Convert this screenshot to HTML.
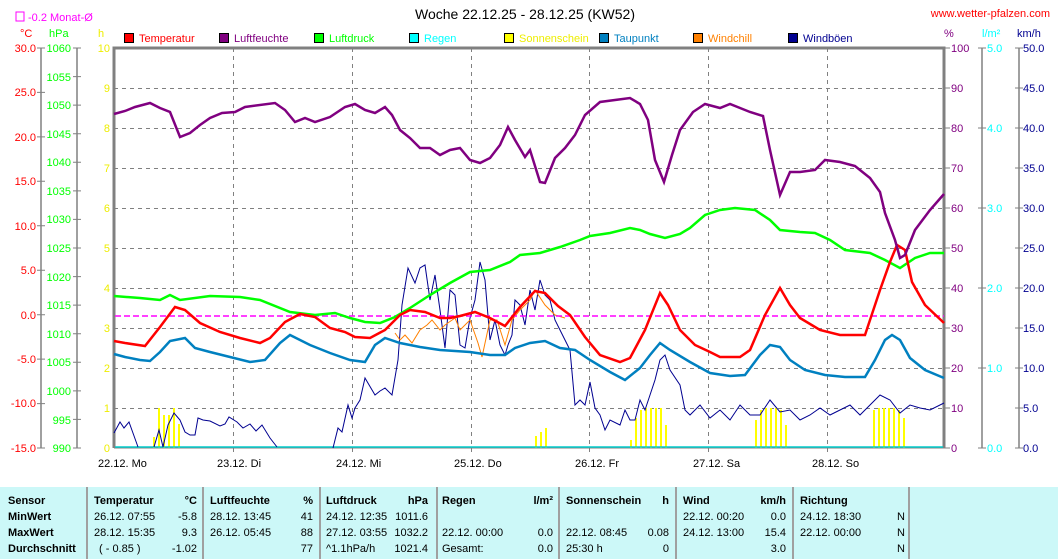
<!DOCTYPE html>
<html><head><meta charset="utf-8"><style>
html,body{margin:0;padding:0;background:#fff;}
svg{display:block;font-family:"Liberation Sans",sans-serif;}
</style></head><body>
<svg width="1058" height="559" viewBox="0 0 1058 559" xmlns="http://www.w3.org/2000/svg">
<rect width="1058" height="559" fill="#fff"/>
<text x="525" y="19" font-size="14" text-anchor="middle" fill="#000">Woche 22.12.25 - 28.12.25 (KW52)</text>
<text x="1050" y="17" font-size="11" text-anchor="end" fill="#f00">www.wetter-pfalzen.com</text>
<rect x="16" y="12" width="8" height="9" fill="none" stroke="#f0f" stroke-width="1"/>
<text x="28" y="21" font-size="11" fill="#f0f">-0.2 Monat-Ø</text>
<text x="20" y="37" font-size="11" fill="#f00">°C</text>
<text x="49" y="37" font-size="11" fill="#0f0">hPa</text>
<text x="98" y="37" font-size="11" fill="#ee0">h</text>
<text x="944" y="37" font-size="11" fill="#800080">%</text>
<text x="982" y="37" font-size="11" fill="#0ff">l/m²</text>
<text x="1017" y="37" font-size="11" fill="#000090">km/h</text>
<!-- legend -->
<g font-size="11">
<rect x="124.5" y="33.5" width="9" height="9" fill="#f00" stroke="#000"/><text x="139" y="42" fill="#f00">Temperatur</text>
<rect x="219.5" y="33.5" width="9" height="9" fill="#800080" stroke="#000"/><text x="234" y="42" fill="#800080">Luftfeuchte</text>
<rect x="314.5" y="33.5" width="9" height="9" fill="#0f0" stroke="#000"/><text x="329" y="42" fill="#0f0">Luftdruck</text>
<rect x="409.5" y="33.5" width="9" height="9" fill="#0ff" stroke="#000"/><text x="424" y="42" fill="#0ff">Regen</text>
<rect x="504.5" y="33.5" width="9" height="9" fill="#ff0" stroke="#000"/><text x="519" y="42" fill="#ee0">Sonnenschein</text>
<rect x="599.5" y="33.5" width="9" height="9" fill="#0080c0" stroke="#000"/><text x="614" y="42" fill="#0080c0">Taupunkt</text>
<rect x="693.5" y="33.5" width="9" height="9" fill="#ff8000" stroke="#000"/><text x="708" y="42" fill="#ff8000">Windchill</text>
<rect x="788.5" y="33.5" width="9" height="9" fill="#000090" stroke="#000"/><text x="803" y="42" fill="#000090">Windböen</text>
</g>
<!-- grid -->
<g stroke="#808080" stroke-dasharray="4,4" stroke-width="1">
<line x1="114" y1="88.5" x2="944" y2="88.5"/><line x1="114" y1="128.5" x2="944" y2="128.5"/><line x1="114" y1="168.5" x2="944" y2="168.5"/><line x1="114" y1="208.5" x2="944" y2="208.5"/><line x1="114" y1="248.5" x2="944" y2="248.5"/><line x1="114" y1="288.5" x2="944" y2="288.5"/><line x1="114" y1="328.5" x2="944" y2="328.5"/><line x1="114" y1="368.5" x2="944" y2="368.5"/><line x1="114" y1="408.5" x2="944" y2="408.5"/>
<line x1="233.5" y1="48" x2="233.5" y2="453"/><line x1="352.5" y1="48" x2="352.5" y2="453"/><line x1="471.5" y1="48" x2="471.5" y2="453"/><line x1="589.5" y1="48" x2="589.5" y2="453"/><line x1="708.5" y1="48" x2="708.5" y2="453"/><line x1="827.5" y1="48" x2="827.5" y2="453"/>
</g>
<!-- axes lines -->
<g stroke="#808080" stroke-width="1.5" fill="none">
<line x1="41" y1="48" x2="41" y2="448"/><line x1="77" y1="48" x2="77" y2="448"/>
<line x1="982" y1="48" x2="982" y2="448"/><line x1="1019" y1="48" x2="1019" y2="448"/>
</g>
<g stroke="#808080" stroke-width="3" fill="none"><polyline points="114,448 114,48 944,48 944,448"/></g>
<line x1="114" y1="448" x2="944" y2="448" stroke="#808080" stroke-width="1"/>
<!-- left tick labels -->
<g font-size="11" text-anchor="end" fill="#f00">
<text x="36" y="52">30.0</text><text x="36" y="96">25.0</text><text x="36" y="141">20.0</text><text x="36" y="185">15.0</text><text x="36" y="230">10.0</text><text x="36" y="274">5.0</text><text x="36" y="319">0.0</text><text x="36" y="363">-5.0</text><text x="36" y="407">-10.0</text><text x="36" y="452">-15.0</text>
</g>
<g stroke="#808080"><path d="M37 48h8M37 92.4h8M37 136.9h8M37 181.3h8M37 225.8h8M37 270.2h8M37 314.7h8M37 359.1h8M37 403.6h8M37 448h8"/>
<path d="M73 48h8M73 76.6h8M73 105.1h8M73 133.7h8M73 162.3h8M73 190.9h8M73 219.4h8M73 248h8M73 276.6h8M73 305.1h8M73 333.7h8M73 362.3h8M73 390.9h8M73 419.4h8M73 448h8"/>
<path d="M944 48h6M944 88h6M944 128h6M944 168h6M944 208h6M944 248h6M944 288h6M944 328h6M944 368h6M944 408h6M944 448h6"/>
<path d="M978 48h8M978 128h8M978 208h8M978 288h8M978 368h8M978 448h8"/>
<path d="M1015 48h8M1015 88h8M1015 128h8M1015 168h8M1015 208h8M1015 248h8M1015 288h8M1015 328h8M1015 368h8M1015 408h8M1015 448h8"/></g>
<g font-size="11" text-anchor="end" fill="#0f0">
<text x="71" y="52">1060</text><text x="71" y="81">1055</text><text x="71" y="109">1050</text><text x="71" y="138">1045</text><text x="71" y="166">1040</text><text x="71" y="195">1035</text><text x="71" y="223">1030</text><text x="71" y="252">1025</text><text x="71" y="281">1020</text><text x="71" y="309">1015</text><text x="71" y="338">1010</text><text x="71" y="366">1005</text><text x="71" y="395">1000</text><text x="71" y="424">995</text><text x="71" y="452">990</text>
</g>
<g font-size="11" text-anchor="end" fill="#ee0">
<text x="110" y="52">10</text><text x="110" y="92">9</text><text x="110" y="132">8</text><text x="110" y="172">7</text><text x="110" y="212">6</text><text x="110" y="252">5</text><text x="110" y="292">4</text><text x="110" y="332">3</text><text x="110" y="372">2</text><text x="110" y="412">1</text><text x="110" y="452">0</text>
</g>
<g font-size="11" fill="#800080">
<text x="951" y="52">100</text><text x="951" y="92">90</text><text x="951" y="132">80</text><text x="951" y="172">70</text><text x="951" y="212">60</text><text x="951" y="252">50</text><text x="951" y="292">40</text><text x="951" y="332">30</text><text x="951" y="372">20</text><text x="951" y="412">10</text><text x="951" y="452">0</text>
</g>
<g font-size="11" fill="#0ff">
<text x="987" y="52">5.0</text><text x="987" y="132">4.0</text><text x="987" y="212">3.0</text><text x="987" y="292">2.0</text><text x="987" y="372">1.0</text><text x="987" y="452">0.0</text>
</g>
<g font-size="11" fill="#000090">
<text x="1023" y="52">50.0</text><text x="1023" y="92">45.0</text><text x="1023" y="132">40.0</text><text x="1023" y="172">35.0</text><text x="1023" y="212">30.0</text><text x="1023" y="252">25.0</text><text x="1023" y="292">20.0</text><text x="1023" y="332">15.0</text><text x="1023" y="372">10.0</text><text x="1023" y="412">5.0</text><text x="1023" y="452">0.0</text>
</g>
<!-- x labels -->
<g font-size="11" fill="#000">
<text x="98" y="467">22.12.  Mo</text><text x="217" y="467">23.12.  Di</text><text x="336" y="467">24.12.  Mi</text><text x="454" y="467">25.12.  Do</text><text x="575" y="467">26.12.  Fr</text><text x="693" y="467">27.12.  Sa</text><text x="812" y="467">28.12.  So</text>
</g>
<!-- sunshine bars -->
<g fill="#ff0">
<rect x="153" y="437" width="2" height="11"/><rect x="158" y="408" width="2" height="40"/><rect x="163" y="415" width="2" height="33"/><rect x="168" y="415" width="2" height="33"/><rect x="173" y="408" width="2" height="40"/><rect x="178" y="424" width="2" height="24"/>
<rect x="535" y="436" width="2" height="12"/><rect x="540" y="432" width="2" height="16"/><rect x="545" y="428" width="2" height="20"/>
<rect x="630" y="440" width="2" height="8"/><rect x="635" y="418" width="2" height="30"/><rect x="640" y="410" width="2" height="38"/><rect x="645" y="408" width="2" height="40"/><rect x="650" y="408" width="2" height="40"/><rect x="655" y="408" width="2" height="40"/><rect x="660" y="408" width="2" height="40"/><rect x="665" y="425" width="2" height="23"/>
<rect x="755" y="420" width="2" height="28"/><rect x="760" y="410" width="2" height="38"/><rect x="765" y="408" width="2" height="40"/><rect x="770" y="408" width="2" height="40"/><rect x="775" y="408" width="2" height="40"/><rect x="780" y="410" width="2" height="38"/><rect x="785" y="425" width="2" height="23"/>
<rect x="873" y="410" width="2" height="38"/><rect x="878" y="408" width="2" height="40"/><rect x="883" y="408" width="2" height="40"/><rect x="888" y="408" width="2" height="40"/><rect x="893" y="408" width="2" height="40"/><rect x="898" y="410" width="2" height="38"/><rect x="903" y="418" width="2" height="30"/>
</g>
<line x1="115" y1="447" x2="943" y2="447" stroke="#0cc" stroke-width="1.5"/>
<!-- wind gusts -->
<g fill="none" stroke="#000090" stroke-width="1">
<polyline points="114,433 120,422 124,428 129,422 138,447"/>
<polyline points="154,447 159,430 163,447 168,425 174,413 180,420 185,432 190,435 195,435 198,418 203,420 210,421 220,426 225,424 229,417 237,422 243,428 250,424 256,431 262,425 270,438 277,447"/>
<polyline points="333,448 338,428 342,432 348,405 352,418 355,408 360,400 365,378 375,395 380,391 385,388 392,395 398,360 402,305 408,268 415,283 420,268 425,265 430,300 435,275 440,310 445,348 450,290 455,295 460,345 465,348 470,318 475,300 480,262 485,280 490,340 495,320 500,345 505,355 508,345 512,335 515,300 520,305 525,325 530,290 535,310 540,280 545,295 550,300 555,320 560,330 565,340 570,350 575,405 580,400 585,405 590,382 595,408 600,415 605,430 610,420 620,425 625,410 630,420 635,420 640,400 645,410 650,395 655,380 660,360 665,355 670,370 680,385 685,410 690,415 700,405 710,418 720,410 730,420 740,405 750,415 760,415 770,400 780,412 790,410 800,420 810,415 820,408 830,415 840,410 850,405 860,415 870,405 880,395 890,400 900,413 910,405 920,408 930,410 944,403"/>
</g>
<!-- windchill -->
<polyline fill="none" stroke="#ff8000" stroke-width="1" points="395,333 400,340 405,335 412,343 420,330 427,325 432,320 440,330 445,325 455,318 460,330 470,320 478,343 482,357 490,320 497,320 505,345 512,320 520,310 530,300 535,290 545,305 555,315 565,318"/>
<!-- monthly avg -->
<line x1="115" y1="316" x2="944" y2="316" stroke="#f0f" stroke-width="1.5" stroke-dasharray="6,3"/>
<!-- pressure -->
<polyline fill="none" stroke="#0f0" stroke-width="2.5" points="114,296 140,298 160,300 170,295 180,300 210,296 240,297 260,300 290,312 315,315 335,313 350,318 365,322 380,323 395,317 410,308 430,295 450,283 470,272 490,270 510,262 520,255 540,253 560,247 580,240 590,236 610,233 630,228 640,230 650,234 665,238 680,234 690,228 705,215 720,210 735,208 755,210 770,220 780,230 800,232 815,233 830,240 845,250 870,253 885,260 900,268 915,258 930,253 944,253"/>
<!-- dew point -->
<polyline fill="none" stroke="#0080c0" stroke-width="2.5" points="114,354 125,357 140,360 150,361 160,352 170,341 185,338 195,348 210,352 230,357 250,362 265,360 280,343 290,335 310,345 330,353 350,360 365,362 375,345 385,338 400,343 420,347 440,350 470,352 490,355 505,355 515,348 530,343 545,341 560,348 575,350 590,360 610,372 625,380 640,368 650,355 660,343 670,350 690,362 710,373 730,376 745,375 760,355 770,345 780,347 790,360 805,370 825,375 845,377 865,377 875,360 885,340 892,335 900,340 910,358 925,370 944,378"/>
<!-- temperature -->
<polyline fill="none" stroke="#f00" stroke-width="2.5" points="114,341 125,343 145,346 160,327 175,307 185,310 200,323 220,332 240,338 260,343 270,338 285,322 300,314 315,317 330,328 345,332 355,337 370,338 385,330 400,315 410,310 425,312 440,318 450,318 460,316 475,312 490,318 505,326 520,307 535,291 545,293 558,306 570,315 585,337 600,355 620,362 630,358 645,330 660,293 668,305 680,330 695,345 710,352 720,357 740,357 750,350 765,315 780,288 790,305 800,318 820,330 840,335 865,335 870,320 880,290 890,262 897,245 905,250 912,282 925,305 944,323"/>
<!-- humidity -->
<polyline fill="none" stroke="#800080" stroke-width="2.5" points="114,114 125,111 135,107 150,103 160,108 170,112 180,137 190,133 200,125 210,118 222,113 235,112 245,107 275,103 285,110 295,122 305,118 315,122 330,117 345,107 355,104 365,110 375,113 385,107 392,115 400,130 410,138 420,148 430,148 440,155 450,150 460,148 470,160 480,163 490,158 500,145 508,127 515,140 525,157 530,150 540,182 545,183 555,158 565,148 575,135 585,115 600,102 615,100 630,98 640,104 648,120 655,160 664,182 672,155 680,130 693,112 705,104 720,108 730,104 750,112 763,116 770,150 780,195 790,172 800,172 815,170 825,160 840,162 855,166 870,178 880,192 885,213 895,240 900,258 905,255 915,230 930,210 944,194"/>
<!-- table -->
<rect x="0" y="487" width="1058" height="72" fill="#ccf8f8"/>
<g stroke="#a0a0a0" stroke-width="2"><path d="M87 487v72M203 487v72M320 487v72M437 487v72M559 487v72M676 487v72M793 487v72M909 487v72"/></g>
<g font-size="11" fill="#000">
<g font-weight="bold"><text x="8" y="504">Sensor</text><text x="8" y="520">MinWert</text><text x="8" y="536">MaxWert</text><text x="8" y="552">Durchschnitt</text>
<text x="94" y="504">Temperatur</text><text x="197" y="504" text-anchor="end">°C</text>
<text x="210" y="504">Luftfeuchte</text><text x="313" y="504" text-anchor="end">%</text>
<text x="326" y="504">Luftdruck</text><text x="428" y="504" text-anchor="end">hPa</text>
<text x="442" y="504">Regen</text><text x="553" y="504" text-anchor="end">l/m²</text>
<text x="566" y="504">Sonnenschein</text><text x="669" y="504" text-anchor="end">h</text>
<text x="683" y="504">Wind</text><text x="786" y="504" text-anchor="end">km/h</text>
<text x="800" y="504">Richtung</text></g>
<text x="94" y="520">26.12.  07:55</text><text x="197" y="520" text-anchor="end">-5.8</text>
<text x="94" y="536">28.12.  15:35</text><text x="197" y="536" text-anchor="end">9.3</text>
<text x="99" y="552">( - 0.85 )</text><text x="197" y="552" text-anchor="end">-1.02</text>
<text x="210" y="520">28.12.  13:45</text><text x="313" y="520" text-anchor="end">41</text>
<text x="210" y="536">26.12.  05:45</text><text x="313" y="536" text-anchor="end">88</text>
<text x="313" y="552" text-anchor="end">77</text>
<text x="326" y="520">24.12.  12:35</text><text x="428" y="520" text-anchor="end">1011.6</text>
<text x="326" y="536">27.12.  03:55</text><text x="428" y="536" text-anchor="end">1032.2</text>
<text x="326" y="552">^1.1hPa/h</text><text x="428" y="552" text-anchor="end">1021.4</text>
<text x="442" y="536">22.12.  00:00</text><text x="553" y="536" text-anchor="end">0.0</text>
<text x="442" y="552">Gesamt:</text><text x="553" y="552" text-anchor="end">0.0</text>
<text x="566" y="536">22.12.  08:45</text><text x="669" y="536" text-anchor="end">0.08</text>
<text x="566" y="552">25:30 h</text><text x="669" y="552" text-anchor="end">0</text>
<text x="683" y="520">22.12.  00:20</text><text x="786" y="520" text-anchor="end">0.0</text>
<text x="683" y="536">24.12.  13:00</text><text x="786" y="536" text-anchor="end">15.4</text>
<text x="786" y="552" text-anchor="end">3.0</text>
<text x="800" y="520">24.12.  18:30</text><text x="905" y="520" text-anchor="end">N</text>
<text x="800" y="536">22.12.  00:00</text><text x="905" y="536" text-anchor="end">N</text>
<text x="905" y="552" text-anchor="end">N</text>
</g>
</svg>
</body></html>
